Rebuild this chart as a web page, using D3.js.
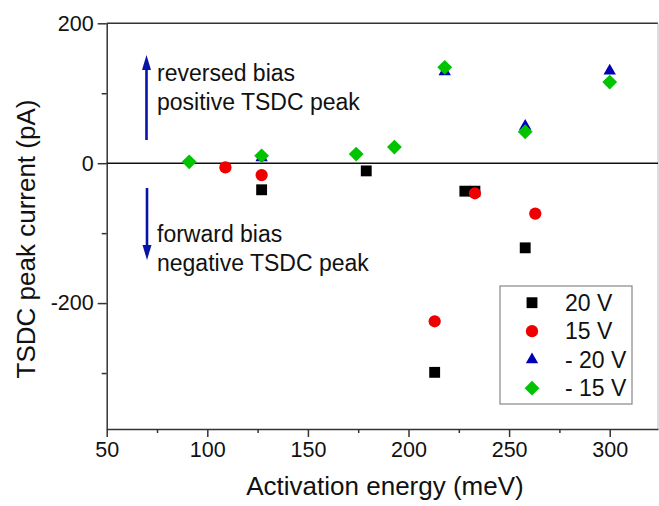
<!DOCTYPE html>
<html><head><meta charset="utf-8">
<script src="https://cdn.jsdelivr.net/npm/d3@7"></script>
<style>body{margin:0;background:#fff}svg{display:block}text{font-family:"Liberation Sans",Arial,sans-serif;fill:#111}</style>
</head><body>
<svg id="c" width="659" height="506"></svg>
<script>
// Data
const s20V  = [[127,-38],[179,-11],[213,-299],[228,-40],[233,-40],[258,-121]];
const s15V  = [[109,-6],[127,-17],[213,-226],[233,-43],[263,-72]];
const sM20V = [[127,8],[218,131],[258,53],[300,132]];
const sM15V = [[91,2],[127,10.5],[174,13],[193,23],[218,137],[258,45],[300,116]];
const seriesNames = ["20 V","15 V","- 20 V","- 15 V"];
const xTicks = [50,100,150,200,250,300];
const xMinor = [75,125,175,225,275];
const yTicks = [-200,0,200];
const yMinor = [-300,-100,100];

const svg = d3.select("#c");
const L=106.7, R=658, T=23.3, B=429;
const x = d3.scaleLinear().domain([50,324]).range([L,R]);
const y = d3.scaleLinear().domain([-380,200]).range([B,T]);

// frame top/right
svg.append("line").attr("x1",L).attr("x2",R).attr("y1",T).attr("y2",T).attr("stroke","#333").attr("stroke-width",1.5);
svg.append("line").attr("x1",R).attr("x2",R).attr("y1",T).attr("y2",B).attr("stroke","#bbb").attr("stroke-width",1);

// axes
const fs = "21.5px";
const xa = svg.append("g").attr("transform",`translate(0,${B})`)
  .call(d3.axisBottom(x).tickValues(xTicks).tickSize(8).tickSizeOuter(0).tickPadding(5));
svg.append("g").attr("transform",`translate(0,${B})`)
  .call(d3.axisBottom(x).tickValues(xMinor).tickSize(4).tickSizeOuter(0).tickFormat(""))
  .select(".domain").remove();
const ya = svg.append("g").attr("transform",`translate(${L},0)`)
  .call(d3.axisLeft(y).tickValues(yTicks).tickSize(9).tickSizeOuter(0).tickPadding(4).tickFormat(d3.format("d")));
svg.append("g").attr("transform",`translate(${L},0)`)
  .call(d3.axisLeft(y).tickValues(yMinor).tickSize(5).tickSizeOuter(0).tickFormat(""))
  .select(".domain").remove();
svg.selectAll(".domain,.tick line").attr("stroke","#333").attr("stroke-width",1.5);
svg.selectAll(".tick text").attr("font-size",fs).attr("fill","#111").attr("font-family","Liberation Sans, Arial, sans-serif");
ya.selectAll(".tick text").text(d=>d<0?"-"+Math.abs(d):d);

// zero line
svg.append("line").attr("x1",L).attr("x2",R).attr("y1",y(0)).attr("y2",y(0)).attr("stroke","#111").attr("stroke-width",1.6);

// titles
svg.append("text").attr("x",385).attr("y",495).attr("text-anchor","middle").attr("font-size","26px").text("Activation energy (meV)");
svg.append("text").attr("transform","translate(35,239) rotate(-90)").attr("text-anchor","middle").attr("font-size","26px").text("TSDC peak current (pA)");

// annotations
const ann = [["reversed bias",157,81],["positive TSDC peak",157,110],["forward bias",157,242],["negative TSDC peak",157,271]];
svg.selectAll(".ann").data(ann).enter().append("text").attr("x",d=>d[1]).attr("y",d=>d[2]).attr("font-size","23px").text(d=>d[0]);
const blue="#0814a8";
function arrow(xp,y1,y2){
  svg.append("line").attr("x1",xp).attr("x2",xp).attr("y1",y1).attr("y2",y2+(y2<y1?12:-12)).attr("stroke",blue).attr("stroke-width",2.6);
  const d=y2<y1?1:-1;
  svg.append("path").attr("d",`M${xp},${y2} L${xp-4.5},${y2+d*15} L${xp+4.5},${y2+d*15} Z`).attr("fill",blue);
}
arrow(146.5,140,55);
arrow(147,188,260);

// markers
const sq = d3.symbol().type(d3.symbolSquare).size(118)();
const ci = d3.symbol().type(d3.symbolCircle).size(118)();
const tr = d3.symbol().type(d3.symbolTriangle).size(66)();
const di = d3.symbol().type(d3.symbolSquare).size(110)();
const styles = [
  {data:s20V, path:sq, fill:"#000", rot:0},
  {data:s15V, path:ci, fill:"#ee0000", rot:0},
  {data:sM20V, path:tr, fill:"#0000b4", rot:0},
  {data:sM15V, path:di, fill:"#00c400", rot:45}
];
styles.forEach(s=>{
  svg.append("g").selectAll("path").data(s.data).enter().append("path")
    .attr("d",s.path).attr("fill",s.fill)
    .attr("transform",d=>`translate(${x(d[0])},${y(d[1])}) rotate(${s.rot})`);
});

// legend
svg.append("rect").attr("x",500).attr("y",286).attr("width",132).attr("height",118).attr("fill","#fff").attr("stroke","#888").attr("stroke-width",1.2);
styles.forEach((s,i)=>{
  const yy=302.7+i*28.5;
  svg.append("path").attr("d",s.path).attr("fill",s.fill).attr("transform",`translate(532,${yy}) rotate(${s.rot})`);
  svg.append("text").attr("x",565).attr("y",yy).attr("dy","0.36em").attr("font-size","23px").text(seriesNames[i]);
});
</script>
</body></html>
